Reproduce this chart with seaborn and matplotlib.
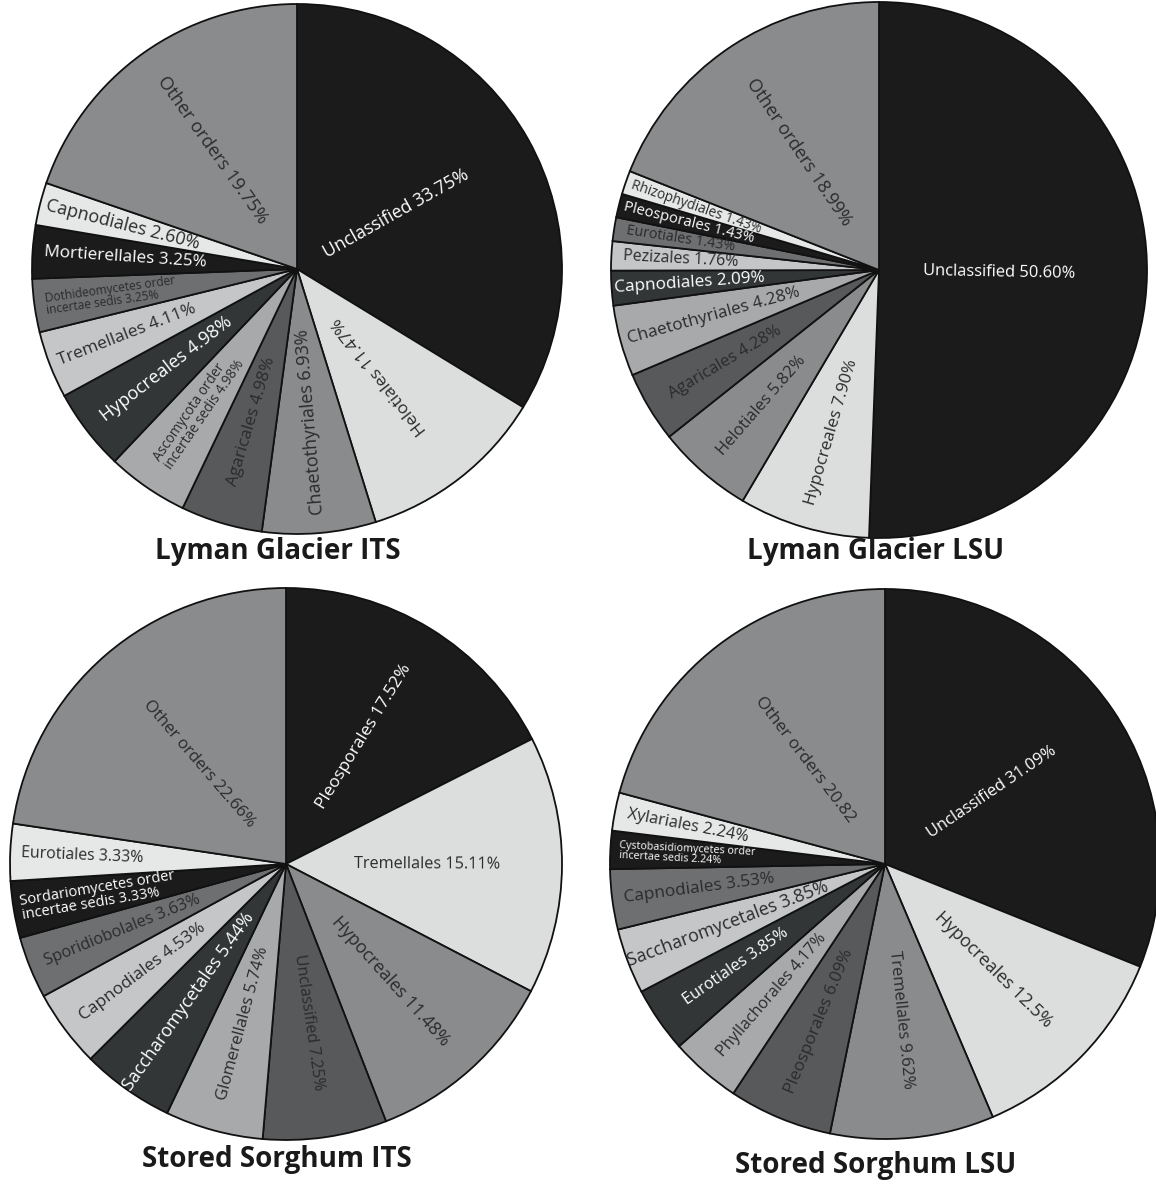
import numpy as np
import matplotlib
matplotlib.use('Agg')
import matplotlib.pyplot as plt
import seaborn as sns

sns.set_theme(style='white')
plt.rcParams['font.family'] = ['Open Sans', 'DejaVu Sans']

W, H = 1156, 1184

# grey ramp shared by all four pies (slice order)
PALETTE = ['#1b1b1c', '#dcdddd', '#898b8d', '#57595b', '#a7a9ab', '#333637',
           '#c4c6c7', '#6d6f71', '#1b1b1c', '#e6e7e7', '#898b8d']
WHITE_TEXT = {0, 5, 8}

# ---- data ----
lg_its_labels = ['Unclassified 33.75%', 'Helotiales 11.47%', 'Chaetothyriales 6.93%',
                 'Agaricales 4.98%', 'Ascomycota order\nincertae sedis 4.98%',
                 'Hypocreales 4.98%', 'Tremellales 4.11%',
                 'Dothideomycetes order\nincertae sedis 3.25%', 'Mortierellales 3.25%',
                 'Capnodiales 2.60%', 'Other orders 19.75%']
lg_its_values = [33.75, 11.47, 6.93, 4.98, 4.98, 4.98, 4.11, 3.25, 3.25, 2.60, 19.75]

lg_lsu_labels = ['Unclassified 50.60%', 'Hypocreales 7.90%', 'Helotiales 5.82%',
                 'Agaricales 4.28%', 'Chaetothyriales 4.28%', 'Capnodiales 2.09%',
                 'Pezizales 1.76%', 'Eurotiales 1.43%', 'Pleosporales 1.43%',
                 'Rhizophydiales 1.43%', 'Other orders 18.99%']
lg_lsu_values = [50.60, 7.90, 5.82, 4.28, 4.28, 2.09, 1.76, 1.43, 1.43, 1.43, 18.99]

ss_its_labels = ['Pleosporales 17.52%', 'Tremellales 15.11%', 'Hypocreales 11.48%',
                 'Unclassified 7.25%', 'Glomerellales 5.74%', 'Saccharomycetales 5.44%',
                 'Capnodiales 4.53%', 'Sporidiobolales 3.63%',
                 'Sordariomycetes order\nincertae sedis 3.33%', 'Eurotiales 3.33%',
                 'Other orders 22.66%']
ss_its_values = [17.52, 15.11, 11.48, 7.25, 5.74, 5.44, 4.53, 3.63, 3.33, 3.33, 22.66]

ss_lsu_labels = ['Unclassified 31.09%', 'Hypocreales 12.5%', 'Tremellales 9.62%',
                 'Pleosporales 6.09%', 'Phyllachorales 4.17%', 'Eurotiales 3.85%',
                 'Saccharomycetales 3.85%', 'Capnodiales 3.53%',
                 'Cystobasidiomycetes order\nincertae sedis 2.24%', 'Xylariales 2.24%',
                 'Other orders 20.82']
ss_lsu_values = [31.09, 12.5, 9.62, 6.09, 4.17, 3.85, 3.85, 3.53, 2.24, 2.24, 20.82]

titles = ['Lyman Glacier ITS', 'Lyman Glacier LSU', 'Stored Sorghum ITS', 'Stored Sorghum LSU']

# ---- layout (pixels) ----
pie_geom = [(297, 269, 265), (879, 270, 268), (286, 864, 276), (885, 864, 275)]
title_pos = [(278, 552), (876, 552), (277, 1160), (876, 1165)]

# label text reads outward from the centre?
outward = [
    [1, 0, 0, 0, 0, 0, 0, 0, 0, 0, 0],
    [1, 0, 0, 0, 0, 0, 0, 0, 0, 0, 0],
    [1, 1, 1, 1, 0, 0, 0, 0, 0, 0, 0],
    [1, 1, 1, 0, 0, 0, 0, 0, 0, 0, 0],
]
label_r = [
    [0.43, 0.51, 0.58, 0.60, 0.65, 0.62, 0.69, 0.71, 0.65, 0.68, 0.55],
    [0.45, 0.63, 0.67, 0.67, 0.64, 0.71, 0.74, 0.75, 0.73, 0.72, 0.53],
    [0.54, 0.51, 0.57, 0.58, 0.60, 0.61, 0.65, 0.64, 0.69, 0.74, 0.48],
    [0.47, 0.55, 0.57, 0.62, 0.63, 0.66, 0.61, 0.68, 0.72, 0.73, 0.48],
]
label_size = [
    [11.2, 11, 11.4, 10.8, 8.6, 11.5, 11, 7.6, 10.8, 11.4, 11.5],
    [10.4, 10.8, 10.4, 10.4, 10.8, 10.8, 10, 9, 9.4, 8.6, 11.4],
    [11, 10.3, 11.3, 10, 10.6, 11.3, 11, 10.3, 9.2, 10, 10.6],
    [10.4, 11.3, 10.4, 10.8, 10.2, 10.2, 11.3, 10.9, 6.8, 10.4, 11],
]
SIZE_SCALE = 1.14

all_labels = [lg_its_labels, lg_lsu_labels, ss_its_labels, ss_lsu_labels]
all_values = [lg_its_values, lg_lsu_values, ss_its_values, ss_lsu_values]

fig = plt.figure(figsize=(W / 100, H / 100), dpi=100)

for i in range(4):
    cx, cy, r = pie_geom[i]
    ax = fig.add_axes([(cx - r) / W, 1 - (cy + r) / H, 2 * r / W, 2 * r / H])
    wedges, _ = ax.pie(all_values[i], colors=PALETTE, startangle=90, counterclock=False,
                       radius=1, wedgeprops=dict(edgecolor='#111111', linewidth=1.3))
    for w in wedges:
        w.set_clip_on(False)
    ax.set_xlim(-1, 1)
    ax.set_ylim(-1, 1)
    ax.axis('off')

    for j, w in enumerate(wedges):
        mid = (w.theta1 + w.theta2) / 2
        rot = mid if outward[i][j] else mid + 180
        rot = (rot + 180) % 360 - 180
        rr = label_r[i][j]
        x = rr * np.cos(np.radians(mid))
        y = rr * np.sin(np.radians(mid))
        col = 'white' if j in WHITE_TEXT else '#2b2b2b'
        ax.text(x, y, all_labels[i][j], rotation=rot, rotation_mode='anchor',
                ha='center', va='center', multialignment='left',
                fontsize=label_size[i][j] * SIZE_SCALE, color=col, linespacing=0.9)

    tx, ty = title_pos[i]
    fig.text(tx / W, 1 - ty / H, titles[i], ha='center', va='center',
             fontsize=20, fontweight='bold', color='#1a1a1a')

fig.savefig('out.png', dpi=100, facecolor='white')
